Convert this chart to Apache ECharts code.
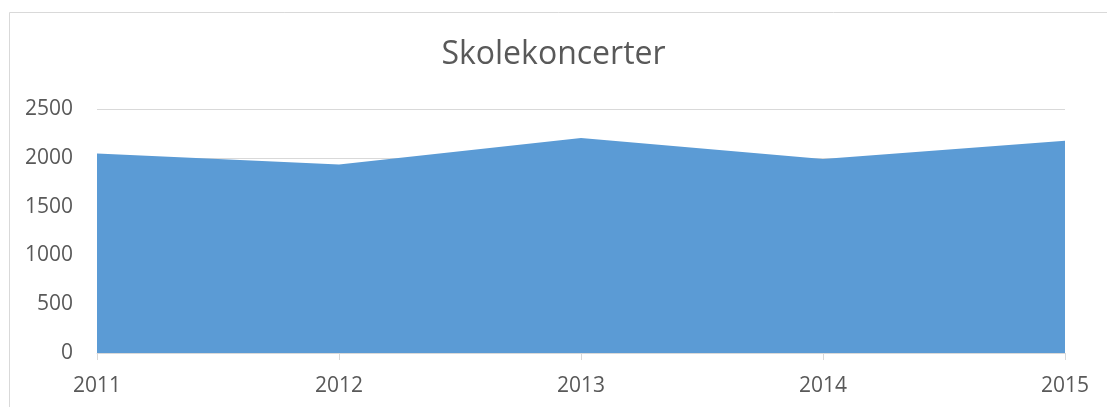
<!DOCTYPE html>
<html><head><meta charset="utf-8">
<script src="https://cdn.jsdelivr.net/npm/echarts@6/dist/echarts.min.js"></script>
<style>html,body{margin:0;padding:0;background:#fff}#c{width:1107px;height:407px}</style>
</head><body><div id="c"></div>
<script>
const title = 'Skolekoncerter';
const categories = ['2011', '2012', '2013', '2014', '2015'];
const values = [2045, 1932, 2202, 1988, 2175];
const yTicks = [0, 500, 1000, 1500, 2000, 2500];

const chart = echarts.init(document.getElementById('c'), null, {renderer: 'canvas'});
const font = '"Open Sans", sans-serif';
chart.setOption({
  animation: false,
  backgroundColor: '#ffffff',
  graphic: [{
    type: 'rect', left: 7, top: 10, silent: true,
    shape: {width: 1120, height: 420},
    style: {fill: 'none', stroke: '#d9d9d9', lineWidth: 1}
  }],
  title: {
    text: title, left: 'center', top: 34,
    textStyle: {fontFamily: font, fontSize: 32, fontWeight: 'normal', color: '#595959'}
  },
  grid: {left: 97, right: 42, top: 109, bottom: 54, containLabel: false},
  xAxis: {
    type: 'category', data: categories, boundaryGap: false,
    axisLine: {lineStyle: {color: '#d9d9d9', width: 1}},
    axisTick: {show: true, alignWithLabel: true, length: 7, lineStyle: {color: '#d9d9d9'}},
    axisLabel: {fontFamily: font, fontSize: 21, color: '#595959', margin: 23},
    splitLine: {show: false}
  },
  yAxis: {
    type: 'value', min: yTicks[0], max: yTicks[yTicks.length - 1], interval: 500,
    axisLine: {show: false}, axisTick: {show: false},
    axisLabel: {fontFamily: font, fontSize: 21, color: '#595959', margin: 24,
      formatter: v => String(v)},
    splitLine: {lineStyle: {color: '#d9d9d9', width: 1}}
  },
  series: [{
    type: 'line', data: values, symbol: 'none',
    lineStyle: {width: 0, color: '#5b9bd5'},
    areaStyle: {color: '#5b9bd5', opacity: 1},
    itemStyle: {color: '#5b9bd5'}
  }]
});
</script></body></html>
